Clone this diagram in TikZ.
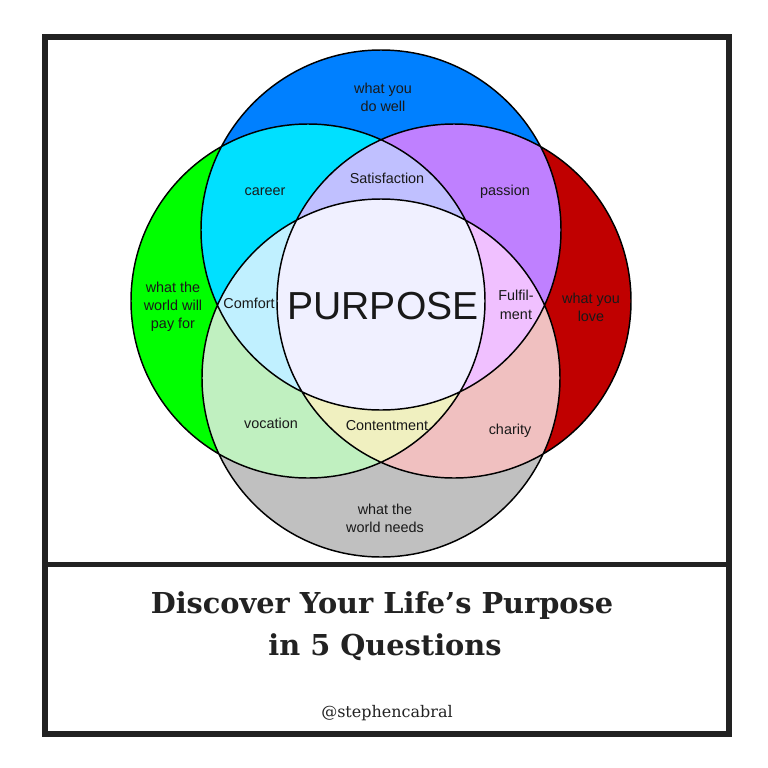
\documentclass[tikz,border=0pt]{standalone}
\usepackage{fontspec}
\setmainfont{Liberation Sans}[Ligatures=NoCommon]
\newfontfamily\titlefont{DejaVu Serif}
\usepackage{xcolor}
\usetikzlibrary{positioning}

\definecolor{dowell}{HTML}{0080FF}
\definecolor{payfor}{HTML}{00FF00}
\definecolor{youlove}{HTML}{C00000}
\definecolor{worldneeds}{HTML}{C0C0C0}
\definecolor{career}{HTML}{00E0FF}
\definecolor{passion}{HTML}{BF80FF}
\definecolor{vocation}{HTML}{C0F0C0}
\definecolor{charity}{HTML}{F0C0C0}
\definecolor{satisfaction}{HTML}{C0C0FF}
\definecolor{comfort}{HTML}{C0F0FF}
\definecolor{fulfilment}{HTML}{F0C0FF}
\definecolor{contentment}{HTML}{F0F0C0}
\definecolor{purpose}{HTML}{F0F0FF}
\definecolor{framegray}{HTML}{222222}

\begin{document}
\begin{tikzpicture}[x=0.75pt, y=-0.75pt,
        venntext/.style={align=center, inner sep=0pt, text=black!90,
            font=\fontsize{10.8}{13.5}\selectfont},
        ring/.style={draw=black, line width=1.1pt}]
    \useasboundingbox (0,0) rectangle (768,768);
    \fill[white] (0,0) rectangle (768,768);

    \coordinate (well)  at (381,230);
    \coordinate (pay)   at (308,301);
    \coordinate (love)  at (454,301);
    \coordinate (needs) at (381,378);
    \def\wellc{(well) circle (180)}
    \def\payc{(pay) circle (177)}
    \def\lovec{(love) circle (177)}
    \def\needsc{(needs) circle (179)}

    \fill[dowell] \wellc;
    \fill[payfor] \payc;
    \fill[youlove] \lovec;
    \fill[worldneeds] \needsc;
    \begin{scope}
        \clip \wellc;
        \fill[career] \payc;
        \fill[passion] \lovec;
    \end{scope}
    \begin{scope}
        \clip \needsc;
        \fill[vocation] \payc;
        \fill[charity] \lovec;
    \end{scope}
    \begin{scope}
        \clip \payc; \clip \lovec;
        \fill[satisfaction] \wellc;
        \fill[contentment] \needsc;
    \end{scope}
    \begin{scope}
        \clip \wellc; \clip \needsc;
        \fill[comfort] \payc;
        \fill[fulfilment] \lovec;
    \end{scope}
    \begin{scope}
        \clip \wellc; \clip \needsc; \clip \payc;
        \fill[purpose] \lovec;
    \end{scope}
    \draw[ring] \wellc \payc \lovec \needsc;

    \node[venntext] (welltxt)    at (383,97)  {what you\\do well};
    \node[venntext] (career)     at (265,192) {career};
    \node[venntext] (satisfy)    at (387,178) {Satisfaction};
    \node[venntext] (passion)    at (505,192) {passion};
    \node[venntext] (paytxt)     at (173,307) {what the\\world will\\pay for};
    \node[venntext] (comfort)    at (249,303) {Comfort};
    \node[venntext, font=\fontsize{29.3}{30}\selectfont] (purpose) at (383,306) {PURPOSE};
    \node[venntext, font=\fontsize{10.8}{14.2}\selectfont] (fulfil) at (516,305) {Fulfil-\\ment};
    \node[venntext] (lovetxt)    at (591,307) {what you\\love};
    \node[venntext] (vocation)   at (271,423) {vocation};
    \node[venntext] (content)    at (387,426) {Contentment};
    \node[venntext] (charity)    at (510,431) {charity};
    \node[venntext] (needstxt)   at (385,518) {what the\\world needs};

    \draw[framegray, line width=4.5pt] (45,37) rectangle (729,734);
    \draw[framegray, line width=3.75pt] (45,564) -- (729,564);

    \node[anchor=base, text=framegray, font=\titlefont\bfseries\fontsize{21.6}{26}\selectfont]
        (title) at (382,613) {Discover Your Life’s Purpose};
    \node[anchor=base, text=framegray, font=\titlefont\bfseries\fontsize{21.6}{26}\selectfont]
        (subtitle) at (385,655) {in 5 Questions};
    \node[anchor=base, text=framegray, font=\titlefont\fontsize{12}{14}\selectfont]
        (handle) at (387,717) {@stephencabral};
\end{tikzpicture}
\end{document}
